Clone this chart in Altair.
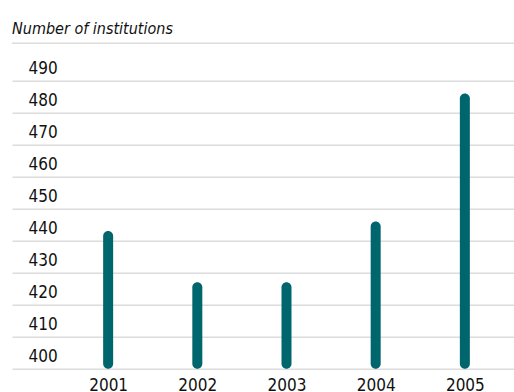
import altair as alt
import pandas as pd

years = [2001, 2002, 2003, 2004, 2005]
institutions = [443, 427, 427, 446, 486]
y_ticks = [400, 410, 420, 430, 440, 450, 460, 470, 480, 490]

df = pd.DataFrame({"year": years, "n": institutions})

FONT = "DejaVu Sans Condensed"
TEAL = "#00666e"
GRID = "#dcdcdc"

base = alt.Chart(df)

bars = base.mark_bar(size=10, cornerRadius=5, color=TEAL).encode(
    x=alt.X("year:Q",
            scale=alt.Scale(domain=[1999.978, 2005.495], nice=False, zero=False),
            axis=alt.Axis(title=None, domain=False, ticks=False, grid=False,
                          values=years, format="d", labelAngle=0,
                          labelFont=FONT, labelFontSize=17, labelColor="#111",
                          labelPadding=9, labelBaseline="top")),
    y=alt.Y("n:Q", scale=alt.Scale(domain=[400, 500], nice=False, zero=False),
            axis=alt.Axis(title=None, values=y_ticks, domain=False, ticks=False,
                          grid=True, gridColor=GRID, gridWidth=1.6,
                          labelAlign="left", labelPadding=-16,
                          labelBaseline="alphabetic", labelOffset=-7,
                          labelFont=FONT, labelFontSize=17, labelColor="#111")),
    y2=alt.datum(400),
)

header = alt.Chart(alt.Data(values=[{}])).mark_rule(color=GRID, strokeWidth=1.6).encode(
    x=alt.value(0), x2=alt.value(502), y=alt.value(-5.4)
)

title = alt.Chart(alt.Data(values=[{}])).mark_text(
    text="Number of institutions", font=FONT, fontSize=16, fontStyle="italic",
    align="left", baseline="alphabetic", color="#111"
).encode(x=alt.value(0), y=alt.value(-15))

chart = alt.layer(header, bars, title).properties(
    width=502, height=320,
    autosize=alt.AutoSizeParams(type="none"),
    padding={"left": 12, "top": 48.7, "right": 0, "bottom": 23.3},
    background="white",
).configure_view(stroke=None)

chart.save("out.html", embed_options={"renderer": "svg", "actions": False})
